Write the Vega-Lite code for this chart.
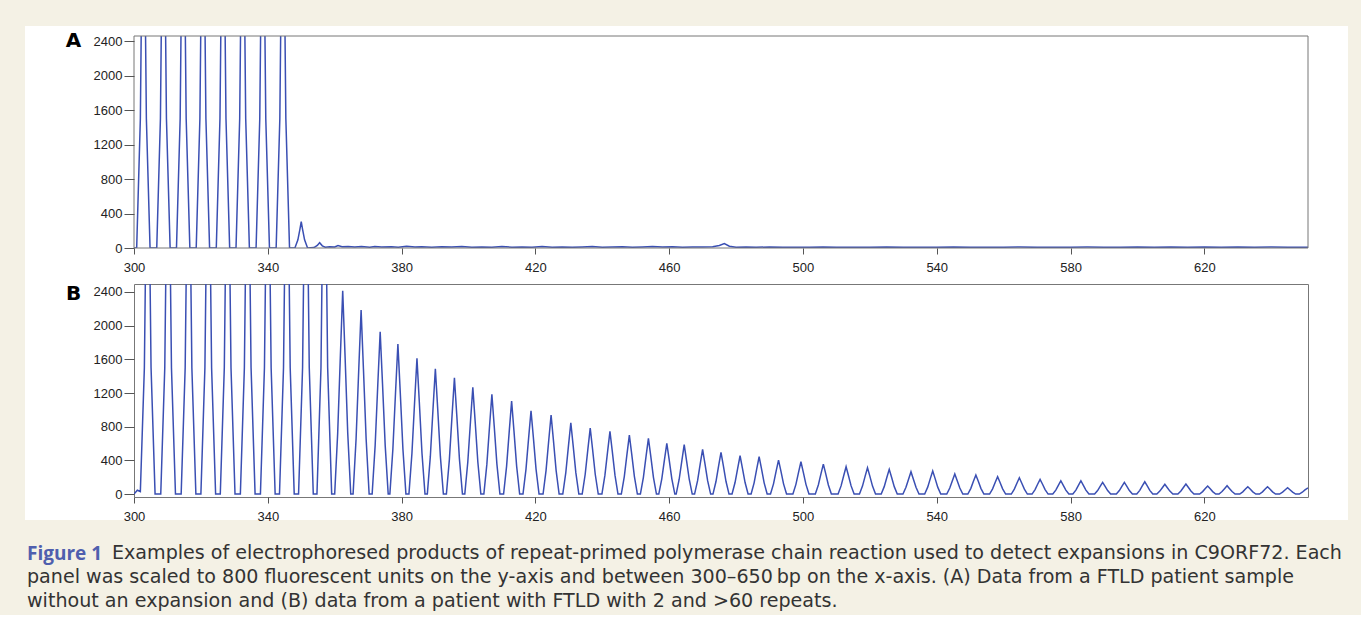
{
  "$schema": "https://vega.github.io/schema/vega-lite/v6.json",
  "background": "#f4f1e5",
  "padding": {"left": 24, "top": 26, "right": 14, "bottom": 4},
  "bounds": "flush",
  "spacing": 36,
  "config": {
    "view": {"stroke": null},
    "axis": {"labelFont": "Liberation Sans", "labelFontSize": 13, "labelColor": "#222", "tickColor": "#555", "grid": false, "domain": false, "labelFlush": false, "labelOverlap": false, "format": "d", "titleFont": "DejaVu Sans", "titleFontSize": 20, "titleFontWeight": "bold", "titleColor": "#000"}
  },
  "title": {
    "text": "Figure 1",
    "subtitle": [
      "\u200b\u00a0\u00a0\u00a0\u00a0\u00a0\u00a0\u00a0\u00a0\u00a0\u00a0\u00a0\u00a0\u00a0\u00a0Examples of electrophoresed products of repeat-primed polymerase chain reaction used to detect expansions in C9ORF72. Each",
      "panel was scaled to 800 fluorescent units on the y-axis and between 300–650\u2009bp on the x-axis. (A) Data from a FTLD patient sample",
      "without an expansion and (B) data from a patient with FTLD with 2 and >60 repeats."
    ],
    "orient": "bottom", "anchor": "start", "frame": "bounds",
    "font": "Open Sans", "fontSize": 19, "fontWeight": "bold", "color": "#4f5fae",
    "subtitleFont": "DejaVu Sans", "subtitleFontSize": 19.1, "subtitleColor": "#333", "subtitleLineHeight": 24,
    "subtitlePadding": -20, "offset": 21, "dx": 2
  },
  "vconcat": [
    {
      "width": 1174, "height": 212,
      "data": {"values": [
        {"bp":300,"rfu":0},
        {"bp":300.8,"rfu":0},{"bp":301.9,"rfu":1500},{"bp":302.8,"rfu":5000},{"bp":303.7,"rfu":1500},{"bp":304.8,"rfu":0},
        {"bp":306.8,"rfu":0},{"bp":307.9,"rfu":1500},{"bp":308.8,"rfu":5000},{"bp":309.7,"rfu":1500},{"bp":310.8,"rfu":0},
        {"bp":312.7,"rfu":0},{"bp":313.8,"rfu":1500},{"bp":314.7,"rfu":5000},{"bp":315.6,"rfu":1500},{"bp":316.7,"rfu":0},
        {"bp":318.6,"rfu":0},{"bp":319.7,"rfu":1500},{"bp":320.6,"rfu":5000},{"bp":321.5,"rfu":1500},{"bp":322.6,"rfu":0},
        {"bp":324.6,"rfu":0},{"bp":325.7,"rfu":1500},{"bp":326.6,"rfu":5000},{"bp":327.5,"rfu":1500},{"bp":328.6,"rfu":0},
        {"bp":330.5,"rfu":0},{"bp":331.6,"rfu":1500},{"bp":332.5,"rfu":5000},{"bp":333.4,"rfu":1500},{"bp":334.5,"rfu":0},
        {"bp":336.5,"rfu":0},{"bp":337.6,"rfu":1500},{"bp":338.5,"rfu":5000},{"bp":339.4,"rfu":1500},{"bp":340.5,"rfu":0},
        {"bp":342.5,"rfu":0},{"bp":343.6,"rfu":1500},{"bp":344.5,"rfu":5000},{"bp":345.4,"rfu":1500},{"bp":346.5,"rfu":0},
        {"bp":348.1,"rfu":0},{"bp":349.0,"rfu":95},{"bp":349.6,"rfu":215},{"bp":350.0,"rfu":305},{"bp":350.4,"rfu":215},{"bp":351.0,"rfu":95},{"bp":351.9,"rfu":0},
        {"bp":353.8,"rfu":5},{"bp":354.8,"rfu":30},{"bp":355.5,"rfu":62},{"bp":356.3,"rfu":25},{"bp":357.2,"rfu":10},
        {"bp":358.5,"rfu":15},{"bp":360.0,"rfu":12},{"bp":361.0,"rfu":28},{"bp":362.2,"rfu":14},{"bp":364.0,"rfu":18},
        {"bp":366.0,"rfu":12},{"bp":368.0,"rfu":16},{"bp":370.5,"rfu":10},{"bp":372.0,"rfu":18},{"bp":374.0,"rfu":12},
        {"bp":377.0,"rfu":15},{"bp":379.0,"rfu":10},{"bp":381.5,"rfu":20},{"bp":384.0,"rfu":12},{"bp":386.0,"rfu":15},
        {"bp":389.0,"rfu":10},{"bp":392.0,"rfu":14},{"bp":395.0,"rfu":11},{"bp":398.0,"rfu":18},{"bp":401.0,"rfu":10},
        {"bp":404.0,"rfu":13},{"bp":407.0,"rfu":9},{"bp":410.0,"rfu":16},{"bp":413.0,"rfu":10},{"bp":416.0,"rfu":12},
        {"bp":419.0,"rfu":9},{"bp":422.0,"rfu":17},{"bp":425.0,"rfu":10},{"bp":428.0,"rfu":13},{"bp":431.0,"rfu":8},
        {"bp":434.0,"rfu":12},{"bp":437.0,"rfu":16},{"bp":440.0,"rfu":10},{"bp":443.0,"rfu":13},{"bp":446.0,"rfu":15},
        {"bp":449.0,"rfu":10},{"bp":452.0,"rfu":12},{"bp":455.0,"rfu":16},{"bp":458.0,"rfu":11},{"bp":461.0,"rfu":14},
        {"bp":464.0,"rfu":10},{"bp":467.0,"rfu":12},{"bp":470.0,"rfu":13},{"bp":473.0,"rfu":14},{"bp":475.0,"rfu":30},
        {"bp":476.5,"rfu":52},{"bp":478.0,"rfu":20},{"bp":480.0,"rfu":10},{"bp":483.0,"rfu":12},{"bp":486.0,"rfu":9},
        {"bp":490.0,"rfu":11},{"bp":494.0,"rfu":8},{"bp":498.0,"rfu":10},{"bp":502.0,"rfu":9},{"bp":506.0,"rfu":12},
        {"bp":510.0,"rfu":8},{"bp":515.0,"rfu":10},{"bp":520.0,"rfu":9},{"bp":525.0,"rfu":11},{"bp":530.0,"rfu":8},
        {"bp":535.0,"rfu":10},{"bp":540.0,"rfu":9},{"bp":545.0,"rfu":11},{"bp":550.0,"rfu":8},{"bp":555.0,"rfu":10},
        {"bp":560.0,"rfu":9},{"bp":565.0,"rfu":11},{"bp":570.0,"rfu":8},{"bp":575.0,"rfu":10},{"bp":580.0,"rfu":9},
        {"bp":585.0,"rfu":11},{"bp":590.0,"rfu":10},{"bp":595.0,"rfu":8},{"bp":600.0,"rfu":12},{"bp":605.0,"rfu":9},
        {"bp":610.0,"rfu":11},{"bp":615.0,"rfu":8},{"bp":620.0,"rfu":13},{"bp":625.0,"rfu":10},{"bp":630.0,"rfu":12},
        {"bp":635.0,"rfu":9},{"bp":640.0,"rfu":11},{"bp":645.0,"rfu":9},{"bp":651.0,"rfu":10}
      ]},
      "layer": [
        {
          "data": {"values": [{}]},
          "mark": {"type": "rect", "fill": "#ffffff", "clip": false},
          "encoding": {
            "x": {"datum": 267.41, "type": "quantitative", "scale": {"domain": [300, 651], "nice": false, "zero": false},
                  "axis": {"values": [300, 340, 380, 420, 460, 500, 540, 580, 620], "tickSize": 6, "labelPadding": 7, "title": null, "zindex": 1}},
            "x2": {"datum": 662.96},
            "y": {"datum": 2576, "type": "quantitative", "scale": {"domain": [0, 2460], "nice": false, "zero": false},
                  "axis": {"values": [0, 400, 800, 1200, 1600, 2000, 2400], "tickCount": 7, "tickSize": 10, "labelPadding": 2, "title": "A", "titleAngle": 0, "titleX": -61, "titleY": 4, "titleAlign": "center", "titleBaseline": "middle", "zindex": 1}},
            "y2": {"datum": -3156}
          }
        },
        {
          "mark": {"type": "line", "clip": true, "color": "#3a4fb3", "strokeWidth": 1.5},
          "encoding": {
            "x": {"field": "bp", "type": "quantitative", "scale": {"domain": [300, 651], "nice": false, "zero": false},
                  "axis": {"values": [300, 340, 380, 420, 460, 500, 540, 580, 620], "tickSize": 6, "labelPadding": 7, "title": null, "zindex": 1}},
            "y": {"field": "rfu", "type": "quantitative", "scale": {"domain": [0, 2460], "nice": false, "zero": false},
                  "axis": {"values": [0, 400, 800, 1200, 1600, 2000, 2400], "tickCount": 7, "tickSize": 10, "labelPadding": 2, "title": "A", "titleAngle": 0, "titleX": -61, "titleY": 4, "titleAlign": "center", "titleBaseline": "middle", "zindex": 1}}
          }
        },
        {
          "data": {"values": [{}]},
          "mark": {"type": "rect", "filled": false, "stroke": "#777777", "strokeWidth": 1},
          "encoding": {
            "x": {"datum": 300, "type": "quantitative", "scale": {"domain": [300, 651], "nice": false, "zero": false},
                  "axis": {"values": [300, 340, 380, 420, 460, 500, 540, 580, 620], "tickSize": 6, "labelPadding": 7, "title": null, "zindex": 1}},
            "x2": {"datum": 651},
            "y": {"datum": 0, "type": "quantitative", "scale": {"domain": [0, 2460], "nice": false, "zero": false},
                  "axis": {"values": [0, 400, 800, 1200, 1600, 2000, 2400], "tickCount": 7, "tickSize": 10, "labelPadding": 2, "title": "A", "titleAngle": 0, "titleX": -61, "titleY": 4, "titleAlign": "center", "titleBaseline": "middle", "zindex": 1}},
            "y2": {"datum": 2460}
          }
        }
      ]
    },
    {
      "width": 1174, "height": 213,
      "view": {"stroke": "#777777"},
      "data": {"values": [
        {"bp":300,"rfu":0},{"bp":301,"rfu":45},{"bp":301.9,"rfu":30},{"bp":303.1,"rfu":1500},{"bp":304.1,"rfu":5000},{"bp":305.1,"rfu":1500},{"bp":306.3,"rfu":0},
        {"bp":308.0,"rfu":0},{"bp":309.2,"rfu":1500},{"bp":310.2,"rfu":5000},{"bp":311.2,"rfu":1500},{"bp":312.4,"rfu":0},
        {"bp":314.1,"rfu":0},{"bp":315.3,"rfu":1500},{"bp":316.3,"rfu":5000},{"bp":317.3,"rfu":1500},{"bp":318.5,"rfu":0},
        {"bp":320.0,"rfu":0},{"bp":321.2,"rfu":1500},{"bp":322.2,"rfu":5000},{"bp":323.2,"rfu":1500},{"bp":324.4,"rfu":0},
        {"bp":325.8,"rfu":0},{"bp":327.0,"rfu":1500},{"bp":328.0,"rfu":5000},{"bp":329.0,"rfu":1500},{"bp":330.2,"rfu":0},
        {"bp":331.8,"rfu":0},{"bp":333.0,"rfu":1500},{"bp":334.0,"rfu":5000},{"bp":335.0,"rfu":1500},{"bp":336.2,"rfu":0},
        {"bp":337.8,"rfu":0},{"bp":339.0,"rfu":1500},{"bp":340.0,"rfu":5000},{"bp":341.0,"rfu":1500},{"bp":342.2,"rfu":0},
        {"bp":343.5,"rfu":0},{"bp":344.7,"rfu":1500},{"bp":345.7,"rfu":5000},{"bp":346.7,"rfu":1500},{"bp":347.9,"rfu":0},
        {"bp":349.2,"rfu":0},{"bp":350.4,"rfu":1500},{"bp":351.4,"rfu":5000},{"bp":352.4,"rfu":1500},{"bp":353.6,"rfu":0},
        {"bp":354.7,"rfu":0},{"bp":355.9,"rfu":1500},{"bp":356.9,"rfu":5000},{"bp":357.9,"rfu":1500},{"bp":359.1,"rfu":0},
        {"bp":360.0,"rfu":0},{"bp":360.9,"rfu":725},{"bp":361.7,"rfu":1642},{"bp":362.4,"rfu":2415},{"bp":363.1,"rfu":1642},{"bp":363.9,"rfu":725},{"bp":364.8,"rfu":0},
        {"bp":365.5,"rfu":0},{"bp":366.4,"rfu":656},{"bp":367.2,"rfu":1486},{"bp":367.9,"rfu":2186},{"bp":368.6,"rfu":1486},{"bp":369.4,"rfu":656},{"bp":370.3,"rfu":0},
        {"bp":371.2,"rfu":0},{"bp":372.1,"rfu":578},{"bp":372.9,"rfu":1311},{"bp":373.6,"rfu":1928},{"bp":374.3,"rfu":1311},{"bp":375.1,"rfu":578},{"bp":376.0,"rfu":0},
        {"bp":376.5,"rfu":0},{"bp":377.4,"rfu":535},{"bp":378.2,"rfu":1212},{"bp":378.9,"rfu":1782},{"bp":379.6,"rfu":1212},{"bp":380.4,"rfu":535},{"bp":381.3,"rfu":0},
        {"bp":382.2,"rfu":0},{"bp":383.1,"rfu":484},{"bp":383.9,"rfu":1096},{"bp":384.6,"rfu":1612},{"bp":385.3,"rfu":1096},{"bp":386.1,"rfu":484},{"bp":387.0,"rfu":0},
        {"bp":387.7,"rfu":0},{"bp":388.6,"rfu":447},{"bp":389.4,"rfu":1013},{"bp":390.1,"rfu":1489},{"bp":390.8,"rfu":1013},{"bp":391.6,"rfu":447},{"bp":392.5,"rfu":0},
        {"bp":393.4,"rfu":0},{"bp":394.3,"rfu":415},{"bp":395.1,"rfu":940},{"bp":395.8,"rfu":1382},{"bp":396.5,"rfu":940},{"bp":397.3,"rfu":415},{"bp":398.2,"rfu":0},
        {"bp":398.9,"rfu":0},{"bp":399.8,"rfu":380},{"bp":400.6,"rfu":862},{"bp":401.3,"rfu":1267},{"bp":402.0,"rfu":862},{"bp":402.8,"rfu":380},{"bp":403.7,"rfu":0},
        {"bp":404.6,"rfu":0},{"bp":405.5,"rfu":355},{"bp":406.3,"rfu":805},{"bp":407.0,"rfu":1184},{"bp":407.7,"rfu":805},{"bp":408.5,"rfu":355},{"bp":409.4,"rfu":0},
        {"bp":410.5,"rfu":0},{"bp":411.4,"rfu":332},{"bp":412.2,"rfu":751},{"bp":412.9,"rfu":1105},{"bp":413.6,"rfu":751},{"bp":414.4,"rfu":332},{"bp":415.3,"rfu":0},
        {"bp":416.3,"rfu":0},{"bp":417.2,"rfu":297},{"bp":418.0,"rfu":673},{"bp":418.7,"rfu":990},{"bp":419.4,"rfu":673},{"bp":420.2,"rfu":297},{"bp":421.1,"rfu":0},
        {"bp":422.3,"rfu":0},{"bp":423.2,"rfu":282},{"bp":424.0,"rfu":639},{"bp":424.7,"rfu":939},{"bp":425.4,"rfu":639},{"bp":426.2,"rfu":282},{"bp":427.1,"rfu":0},
        {"bp":428.2,"rfu":0},{"bp":429.1,"rfu":254},{"bp":429.9,"rfu":576},{"bp":430.6,"rfu":847},{"bp":431.3,"rfu":576},{"bp":432.1,"rfu":254},{"bp":433.0,"rfu":0},
        {"bp":434.0,"rfu":0},{"bp":434.9,"rfu":235},{"bp":435.7,"rfu":533},{"bp":436.4,"rfu":784},{"bp":437.1,"rfu":533},{"bp":437.9,"rfu":235},{"bp":438.8,"rfu":0},
        {"bp":439.9,"rfu":0},{"bp":440.8,"rfu":224},{"bp":441.6,"rfu":507},{"bp":442.3,"rfu":745},{"bp":443.0,"rfu":507},{"bp":443.8,"rfu":224},{"bp":444.7,"rfu":0},
        {"bp":445.7,"rfu":0},{"bp":446.6,"rfu":210},{"bp":447.4,"rfu":477},{"bp":448.1,"rfu":701},{"bp":448.8,"rfu":477},{"bp":449.6,"rfu":210},{"bp":450.5,"rfu":0},
        {"bp":451.4,"rfu":0},{"bp":452.3,"rfu":199},{"bp":453.1,"rfu":450},{"bp":453.8,"rfu":662},{"bp":454.5,"rfu":450},{"bp":455.3,"rfu":199},{"bp":456.2,"rfu":0},
        {"bp":456.9,"rfu":0},{"bp":457.8,"rfu":181},{"bp":458.6,"rfu":409},{"bp":459.3,"rfu":602},{"bp":460.0,"rfu":409},{"bp":460.8,"rfu":181},{"bp":461.7,"rfu":0},
        {"bp":462.1,"rfu":0},{"bp":463.0,"rfu":176},{"bp":463.8,"rfu":398},{"bp":464.5,"rfu":586},{"bp":465.2,"rfu":398},{"bp":466.0,"rfu":176},{"bp":466.9,"rfu":0},
        {"bp":467.6,"rfu":0},{"bp":468.5,"rfu":159},{"bp":469.3,"rfu":361},{"bp":470.0,"rfu":531},{"bp":470.7,"rfu":361},{"bp":471.5,"rfu":159},{"bp":472.4,"rfu":0},
        {"bp":473.1,"rfu":0},{"bp":474.0,"rfu":149},{"bp":474.8,"rfu":337},{"bp":475.5,"rfu":495},{"bp":476.2,"rfu":337},{"bp":477.0,"rfu":149},{"bp":477.9,"rfu":0},
        {"bp":478.8,"rfu":0},{"bp":479.7,"rfu":137},{"bp":480.5,"rfu":309},{"bp":481.2,"rfu":455},{"bp":481.9,"rfu":309},{"bp":482.7,"rfu":137},{"bp":483.6,"rfu":0},
        {"bp":484.5,"rfu":0},{"bp":485.4,"rfu":133},{"bp":486.2,"rfu":301},{"bp":486.9,"rfu":443},{"bp":487.6,"rfu":301},{"bp":488.4,"rfu":133},{"bp":489.3,"rfu":0},
        {"bp":490.3,"rfu":0},{"bp":491.2,"rfu":121},{"bp":492.0,"rfu":275},{"bp":492.7,"rfu":404},{"bp":493.4,"rfu":275},{"bp":494.2,"rfu":121},{"bp":495.1,"rfu":0},
        {"bp":497.0,"rfu":0},{"bp":497.9,"rfu":115},{"bp":498.7,"rfu":261},{"bp":499.4,"rfu":384},{"bp":500.1,"rfu":261},{"bp":500.9,"rfu":115},{"bp":501.8,"rfu":0},
        {"bp":503.7,"rfu":0},{"bp":504.6,"rfu":107},{"bp":505.4,"rfu":242},{"bp":506.1,"rfu":356},{"bp":506.8,"rfu":242},{"bp":507.6,"rfu":107},{"bp":508.5,"rfu":0},
        {"bp":510.5,"rfu":0},{"bp":511.4,"rfu":97},{"bp":512.2,"rfu":220},{"bp":512.9,"rfu":324},{"bp":513.6,"rfu":220},{"bp":514.4,"rfu":97},{"bp":515.3,"rfu":0},
        {"bp":516.9,"rfu":0},{"bp":517.8,"rfu":94},{"bp":518.6,"rfu":213},{"bp":519.3,"rfu":313},{"bp":520.0,"rfu":213},{"bp":520.8,"rfu":94},{"bp":521.7,"rfu":0},
        {"bp":523.4,"rfu":0},{"bp":524.3,"rfu":88},{"bp":525.1,"rfu":199},{"bp":525.8,"rfu":293},{"bp":526.5,"rfu":199},{"bp":527.3,"rfu":88},{"bp":528.2,"rfu":0},
        {"bp":529.9,"rfu":0},{"bp":530.8,"rfu":80},{"bp":531.6,"rfu":180},{"bp":532.3,"rfu":265},{"bp":533.0,"rfu":180},{"bp":533.8,"rfu":80},{"bp":534.7,"rfu":0},
        {"bp":536.4,"rfu":0},{"bp":537.3,"rfu":82},{"bp":538.1,"rfu":186},{"bp":538.8,"rfu":273},{"bp":539.5,"rfu":186},{"bp":540.3,"rfu":82},{"bp":541.2,"rfu":0},
        {"bp":543.0,"rfu":0},{"bp":543.9,"rfu":71},{"bp":544.7,"rfu":162},{"bp":545.4,"rfu":238},{"bp":546.1,"rfu":162},{"bp":546.9,"rfu":71},{"bp":547.8,"rfu":0},
        {"bp":549.3,"rfu":0},{"bp":550.2,"rfu":68},{"bp":551.0,"rfu":154},{"bp":551.7,"rfu":226},{"bp":552.4,"rfu":154},{"bp":553.2,"rfu":68},{"bp":554.1,"rfu":0},
        {"bp":555.8,"rfu":0},{"bp":556.7,"rfu":62},{"bp":557.5,"rfu":140},{"bp":558.2,"rfu":206},{"bp":558.9,"rfu":140},{"bp":559.7,"rfu":62},{"bp":560.6,"rfu":0},
        {"bp":562.3,"rfu":0},{"bp":563.2,"rfu":58},{"bp":564.0,"rfu":132},{"bp":564.7,"rfu":194},{"bp":565.4,"rfu":132},{"bp":566.2,"rfu":58},{"bp":567.1,"rfu":0},
        {"bp":568.5,"rfu":0},{"bp":569.4,"rfu":53},{"bp":570.2,"rfu":119},{"bp":570.9,"rfu":175},{"bp":571.6,"rfu":119},{"bp":572.4,"rfu":53},{"bp":573.3,"rfu":0},
        {"bp":574.7,"rfu":0},{"bp":575.6,"rfu":47},{"bp":576.4,"rfu":107},{"bp":577.1,"rfu":158},{"bp":577.8,"rfu":107},{"bp":578.6,"rfu":47},{"bp":579.5,"rfu":0},
        {"bp":580.7,"rfu":0},{"bp":581.6,"rfu":47},{"bp":582.4,"rfu":107},{"bp":583.1,"rfu":158},{"bp":583.8,"rfu":107},{"bp":584.6,"rfu":47},{"bp":585.5,"rfu":0},
        {"bp":587.2,"rfu":0},{"bp":588.1,"rfu":42},{"bp":588.9,"rfu":95},{"bp":589.6,"rfu":139},{"bp":590.3,"rfu":95},{"bp":591.1,"rfu":42},{"bp":592.0,"rfu":0},
        {"bp":593.7,"rfu":0},{"bp":594.6,"rfu":42},{"bp":595.4,"rfu":95},{"bp":596.1,"rfu":139},{"bp":596.8,"rfu":95},{"bp":597.6,"rfu":42},{"bp":598.5,"rfu":0},
        {"bp":599.8,"rfu":0},{"bp":600.7,"rfu":44},{"bp":601.5,"rfu":99},{"bp":602.2,"rfu":146},{"bp":602.9,"rfu":99},{"bp":603.7,"rfu":44},{"bp":604.6,"rfu":0},
        {"bp":605.8,"rfu":0},{"bp":606.7,"rfu":35},{"bp":607.5,"rfu":78},{"bp":608.2,"rfu":115},{"bp":608.9,"rfu":78},{"bp":609.7,"rfu":35},{"bp":610.6,"rfu":0},
        {"bp":612.1,"rfu":0},{"bp":613.0,"rfu":36},{"bp":613.8,"rfu":81},{"bp":614.5,"rfu":119},{"bp":615.2,"rfu":81},{"bp":616.0,"rfu":36},{"bp":616.9,"rfu":0},
        {"bp":618.6,"rfu":0},{"bp":619.5,"rfu":29},{"bp":620.3,"rfu":65},{"bp":621.0,"rfu":95},{"bp":621.7,"rfu":65},{"bp":622.5,"rfu":29},{"bp":623.4,"rfu":0},
        {"bp":624.4,"rfu":0},{"bp":625.3,"rfu":30},{"bp":626.1,"rfu":67},{"bp":626.8,"rfu":99},{"bp":627.5,"rfu":67},{"bp":628.3,"rfu":30},{"bp":629.2,"rfu":0},
        {"bp":630.6,"rfu":0},{"bp":631.5,"rfu":26},{"bp":632.3,"rfu":59},{"bp":633.0,"rfu":87},{"bp":633.7,"rfu":59},{"bp":634.5,"rfu":26},{"bp":635.4,"rfu":0},
        {"bp":636.5,"rfu":0},{"bp":637.4,"rfu":26},{"bp":638.2,"rfu":59},{"bp":638.9,"rfu":87},{"bp":639.6,"rfu":59},{"bp":640.4,"rfu":26},{"bp":641.3,"rfu":0},
        {"bp":642.5,"rfu":0},{"bp":643.4,"rfu":23},{"bp":644.2,"rfu":51},{"bp":644.9,"rfu":75},{"bp":645.6,"rfu":51},{"bp":646.4,"rfu":23},{"bp":647.3,"rfu":0},
        {"bp":648.4,"rfu":0},{"bp":649.3,"rfu":22},{"bp":650.1,"rfu":50},{"bp":651.0,"rfu":72}
      ]},
      "mark": {"type": "line", "clip": true, "color": "#3a4fb3", "strokeWidth": 1.5},
      "encoding": {
        "x": {"field": "bp", "type": "quantitative", "scale": {"domain": [300, 651], "nice": false, "zero": false},
              "axis": {"values": [300, 340, 380, 420, 460, 500, 540, 580, 620], "tickSize": 6, "labelPadding": 7, "title": null}},
        "y": {"field": "rfu", "type": "quantitative", "scale": {"domain": [-35, 2495], "nice": false, "zero": false},
              "axis": {"values": [0, 400, 800, 1200, 1600, 2000, 2400], "tickSize": 10, "labelPadding": 2, "title": "B", "titleAngle": 0, "titleX": -61, "titleY": 9, "titleAlign": "center", "titleBaseline": "middle"}}
      }
    }
  ]
}
